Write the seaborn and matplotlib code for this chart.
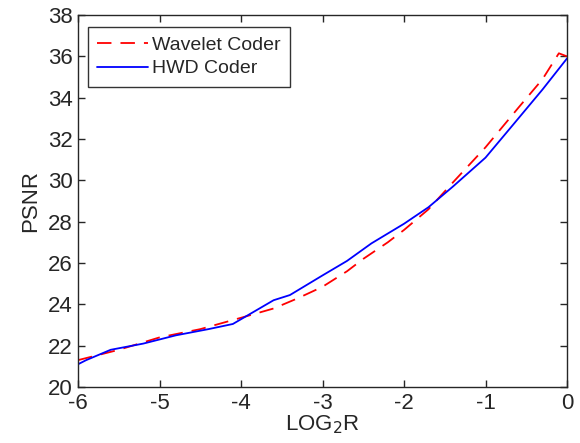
import pandas as pd
import matplotlib
matplotlib.use("Agg")
import matplotlib.pyplot as plt
import seaborn as sns

# Wavelet coder curve
wav_x = [-6.0, -5.5, -5.0, -4.5, -4.0, -3.6, -3.3, -3.0, -2.7, -2.5, -2.2, -2.0, -1.7, -1.4, -1.0, -0.6, -0.3, -0.1, 0.0]
wav_y = [21.3, 21.8, 22.4, 22.8, 23.35, 23.8, 24.3, 24.85, 25.6, 26.2, 27.0, 27.6, 28.6, 29.9, 31.6, 33.5, 34.9, 36.15, 36.0]

# HWD coder curve
hwd_x = [-6.0, -5.9, -5.6, -5.2, -4.8, -4.4, -4.1, -3.6, -3.4, -3.0, -2.7, -2.4, -2.0, -1.7, -1.4, -1.0, -0.66, -0.3, 0.0]
hwd_y = [21.1, 21.3, 21.8, 22.1, 22.5, 22.8, 23.05, 24.2, 24.45, 25.4, 26.1, 26.95, 27.9, 28.7, 29.7, 31.1, 32.7, 34.4, 35.9]

sns.set_style("ticks")
plt.rcParams['font.family'] = ['Liberation Sans', 'DejaVu Sans']
plt.rcParams['axes.unicode_minus'] = False

fig = plt.figure(figsize=(5.8, 4.43), dpi=100)
ax = fig.add_axes([0.1345, 0.1264, 0.8431, 0.8396])

sns.lineplot(x=wav_x, y=wav_y, ax=ax, color='red', linestyle=(0, (8, 5)), linewidth=1.3,
             label='Wavelet Coder', sort=False)
sns.lineplot(x=hwd_x, y=hwd_y, ax=ax, color='blue', linewidth=1.3,
             label='HWD Coder', sort=False)

ax.set_xlim(-6, 0)
ax.set_ylim(20, 38)
ax.set_xticks(range(-6, 1))
ax.set_yticks(range(20, 39, 2))
ax.tick_params(direction='in', top=True, right=True, labelsize=16, length=5, width=1)
ax.tick_params(axis='x', pad=4)
ax.tick_params(axis='y', pad=4)
for s in ax.spines.values():
    s.set_visible(True)
    s.set_linewidth(1)
ax.set_xlabel('LOG$_2$R', fontsize=16, labelpad=0)
ax.set_ylabel('PSNR', fontsize=16, labelpad=5)

leg = ax.legend(loc='upper left', fontsize=14, frameon=True, fancybox=False,
                edgecolor='black', handlelength=2.6, handletextpad=0.2,
                borderpad=0.5, labelspacing=0.3, bbox_to_anchor=(0.0, 0.995))
leg.get_frame().set_linewidth(1)

fig.savefig('out.png', dpi=100)
